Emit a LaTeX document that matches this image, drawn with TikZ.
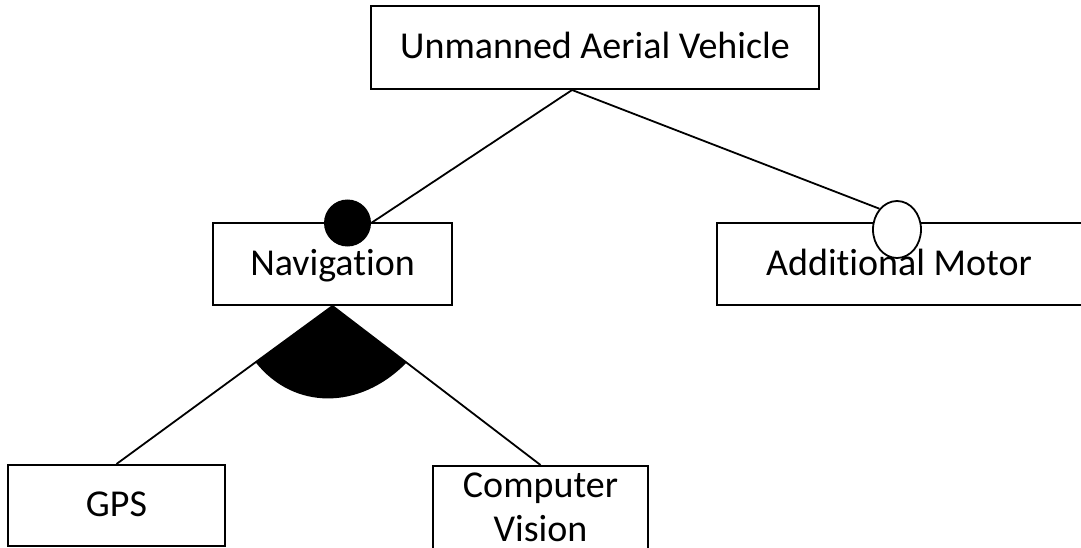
\documentclass[tikz,border=0pt]{standalone}
\usepackage{fontspec}
\setmainfont{Carlito}[Ligatures=NoCommon]
\usetikzlibrary{calc,shapes.geometric}
\pgfdeclarelayer{background}
\pgfsetlayers{background,main}

\tikzset{
  labelfont/.style={font=\fontsize{38}{44}\selectfont},
  feature/.style={draw, line width=2pt, fill=white, inner sep=0pt,
    text height=22pt, text depth=0pt, labelfont},
  plaintext/.style={align=center, inner sep=0pt, labelfont},
  conn/.style={line width=1.8pt},
  mandatory/.style={circle, fill=black, inner sep=0pt, minimum size=47pt},
  optional/.style={ellipse, draw, line width=1.8pt, fill=white, inner sep=0pt,
    minimum width=48pt, minimum height=57pt}
}

\begin{document}
\begin{tikzpicture}[x=1pt, y=-1pt]
\useasboundingbox (0,0) rectangle (1081,548);
\clip (0,0) rectangle (1081,548);

% features
\node[feature, minimum width=448pt, minimum height=83pt] (uav) at (595,47.5) {Unmanned Aerial Vehicle};
\node[feature, minimum width=239pt, minimum height=82pt] (nav) at (332.5,264) {Navigation};
\node[feature, minimum width=370pt, minimum height=82pt] (motor) at (902,264) {};
\node[feature, minimum width=217pt, minimum height=81pt] (gps) at (116.5,505.5) {GPS};
\node[feature, minimum width=215pt, minimum height=130pt, anchor=north] (cv) at (540.5,465) {};
\node[plaintext] (cvtext) at (540.5,507) {Computer\\Vision};

% markers on the child features
\node[mandatory] (fc) at (347.5,223) {};
\node[optional] (oc) at (897,229.5) {};
\node[feature, draw=none, fill=none] (motortext) at (899,264) {Additional Motor};

% edges from the root, kept behind the markers
\coordinate (uavp) at ($(uav.south west)!0.449!(uav.south east)$);
\begin{pgfonlayer}{background}
\draw[conn] (uavp) -- (fc.east);
\draw[conn] (uavp) -- (oc.north west);
\end{pgfonlayer}

% alternative group below Navigation
\coordinate (fl) at ($(nav.south)!0.356!(gps.north)$);
\coordinate (fr) at ($(nav.south)!0.356!(cv.north)$);
\fill (nav.south) -- (fl) .. controls ($(fl)+(38,48)$) and ($(fr)+(-47,48)$) .. (fr) -- cycle;
\draw[conn] (nav.south) -- (gps.north);
\draw[conn] (nav.south) -- (cv.north);
\end{tikzpicture}
\end{document}
